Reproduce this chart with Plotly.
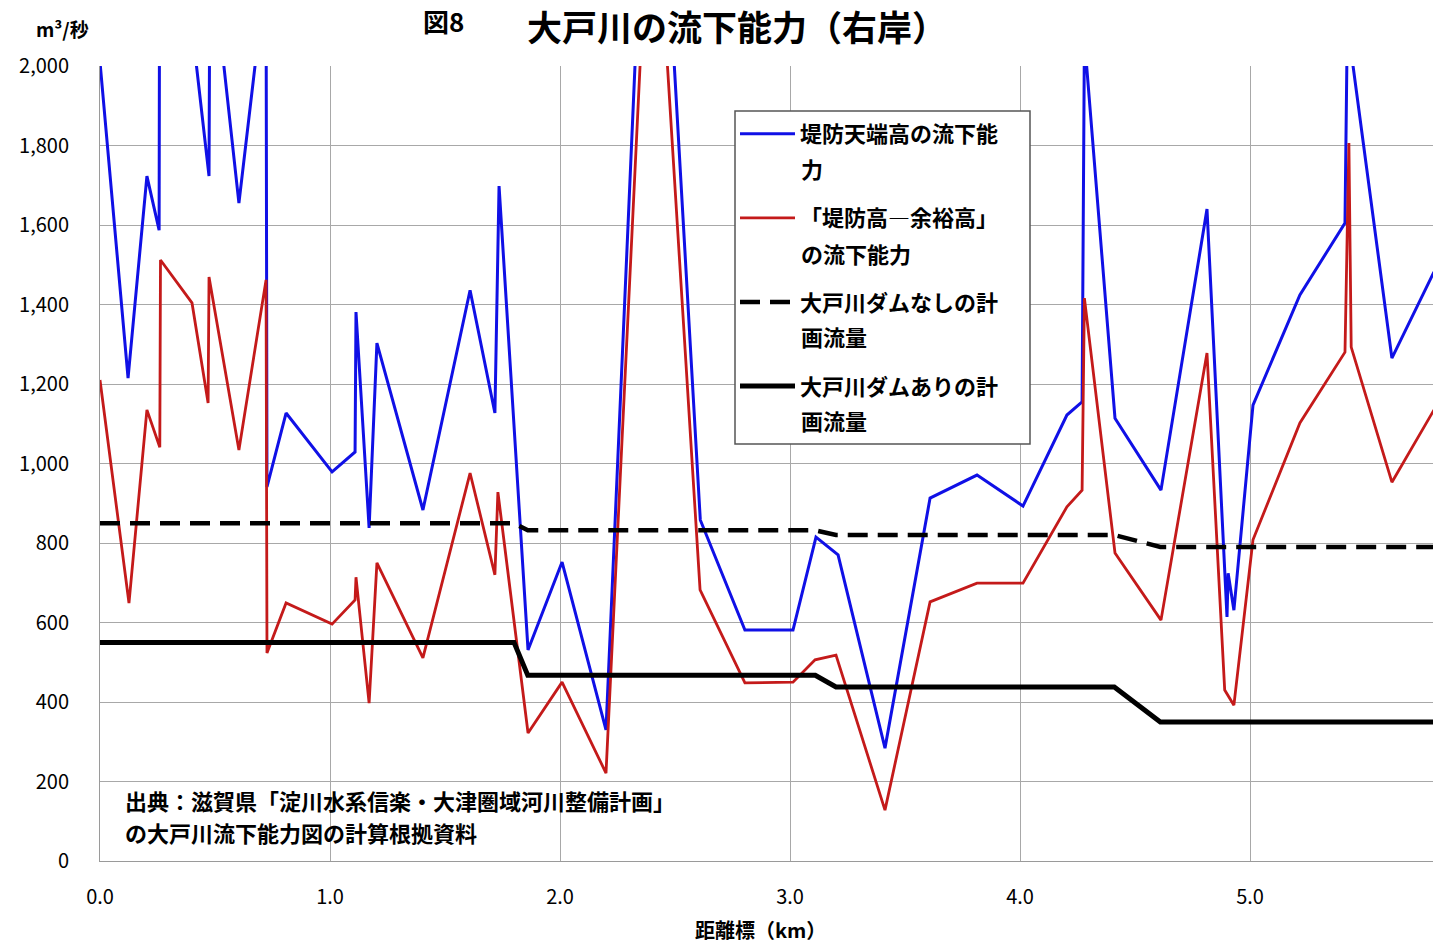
import plotly.graph_objects as go

# 堤防天端高の流下能力 (blue)
blue_x = [0, 0.122, 0.204, 0.257, 0.26, 0.39, 0.474, 0.478, 0.604, 0.722, 0.726, 0.809,
          1.009, 1.109, 1.113, 1.17, 1.204, 1.404, 1.609, 1.717, 1.735, 1.861, 2.009, 2.2,
          2.4, 2.61, 2.804, 3.013, 3.113, 3.209, 3.413, 3.609, 3.813, 4.013, 4.204, 4.27,
          4.28, 4.413, 4.613, 4.813, 4.9, 4.905, 4.93, 5.013, 5.217, 5.413, 5.425, 5.44,
          5.617, 5.8]
blue_y = [2010, 1215, 1723, 1587, 2600, 2150, 1723, 2320, 1655, 2237, 941, 1127,
          979, 1029, 1381, 838, 1303, 883, 1436, 1127, 1698, 531, 752, 330,
          2981, 858, 581, 581, 815, 770, 284, 913, 971, 893, 1122, 1155,
          2070, 1114, 933, 1640, 614, 724, 631, 1147, 1424, 1605, 2200, 2035,
          1265, 1482]

# 「堤防高―余裕高」の流下能力 (red)
red_x = [0, 0.126, 0.204, 0.26, 0.263, 0.4, 0.47, 0.474, 0.604, 0.722, 0.726, 0.809,
         1.009, 1.109, 1.113, 1.17, 1.204, 1.404, 1.609, 1.717, 1.73, 1.861, 2.009, 2.2,
         2.4, 2.609, 2.804, 3.013, 3.109, 3.2, 3.413, 3.609, 3.813, 4.013, 4.204, 4.27,
         4.28, 4.413, 4.613, 4.813, 4.89, 4.93, 5.013, 5.217, 5.413, 5.43, 5.44, 5.617, 5.8]
red_y = [1210, 649, 1135, 1041, 1512, 1404, 1152, 1469, 1034, 1462, 523, 649,
         596, 657, 714, 397, 750, 511, 976, 720, 928, 322, 450, 221,
         2625, 682, 448, 450, 506, 518, 128, 652, 699, 699, 891, 933,
         1416, 775, 606, 1278, 430, 392, 808, 1102, 1280, 1806, 1293, 953, 1135]

# 計画流量
plan_x = [0, 1.8, 1.86, 3.11, 3.2, 4.41, 4.61, 5.8]
plan_nodam_y = [850, 850, 832, 832, 820, 820, 790, 790]
plan_dam_y = [550, 550, 467, 467, 438, 438, 350, 350]

x_ticks = [0, 1, 2, 3, 4, 5]
y_ticks = [0, 200, 400, 600, 800, 1000, 1200, 1400, 1600, 1800, 2000]

# legend labels (first line / continuation line)
legend_first = ["堤防天端高の流下能", "「堤防高―余裕高」", "大戸川ダムなしの計", "大戸川ダムありの計"]
legend_second = ["力", "の流下能力", "画流量", "画流量"]
source_lines = ["出典：滋賀県「淀川水系信楽・大津圏域河川整備計画」", "の大戸川流下能力図の計算根拠資料"]

FONT = "Noto Sans CJK JP"

fig = go.Figure()
fig.add_trace(go.Scatter(x=blue_x, y=blue_y, mode="lines",
                         name=f"<b>{legend_first[0]}</b>", legendgroup="a",
                         line=dict(color="#1010e6", width=3)))
fig.add_trace(go.Scatter(x=red_x, y=red_y, mode="lines",
                         name=f"<b>{legend_first[1]}</b>", legendgroup="b",
                         line=dict(color="#c41a1a", width=2.8)))
fig.add_trace(go.Scatter(x=plan_x, y=plan_nodam_y, mode="lines",
                         name=f"<b>{legend_first[2]}</b>", legendgroup="c",
                         line=dict(color="black", width=4.5, dash="20px,10px")))
fig.add_trace(go.Scatter(x=plan_x, y=plan_dam_y, mode="lines",
                         name=f"<b>{legend_first[3]}</b>", legendgroup="d",
                         line=dict(color="black", width=5)))

def px2x(px):
    return (px - 100) / 1333

def py2y(py):
    return (861 - py) / 795

fig.update_layout(
    width=1433, height=946,
    margin=dict(l=100, r=0, t=66, b=85),
    paper_bgcolor="white", plot_bgcolor="white",
    font=dict(family=FONT, color="black", size=20),
    showlegend=True,
    legend=dict(x=px2x(735), y=py2y(113), xanchor="left", yanchor="top",
                bgcolor="rgba(0,0,0,0)", borderwidth=0,
                font=dict(size=22, family=FONT), valign="top",
                tracegroupgap=52.5, itemwidth=55),
    xaxis=dict(range=[0, 1333 / 230], tickvals=x_ticks, tickformat=".1f",
               showgrid=True, gridcolor="#a8a8a8", gridwidth=1,
               showline=True, linecolor="#9a9a9a", linewidth=1,
               zeroline=False, ticks="", ticklabelstandoff=18,
               tickfont=dict(size=20, family=FONT)),
    yaxis=dict(range=[0, 2000], tickvals=y_ticks, tickformat=",d",
               showgrid=True, gridcolor="#a8a8a8", gridwidth=1,
               showline=True, linecolor="#9a9a9a", linewidth=1,
               zeroline=False, ticks="", ticklabelstandoff=26,
               tickfont=dict(size=20, family=FONT)),
)

# white box behind source note
fig.add_shape(type="rect", xref="paper", yref="paper",
              x0=px2x(104), x1=px2x(705), y0=py2y(858), y1=py2y(765),
              fillcolor="white", line=dict(width=0), layer="between")
# legend frame
fig.add_shape(type="rect", xref="paper", yref="paper",
              x0=px2x(735), x1=px2x(1030), y0=py2y(444), y1=py2y(111),
              fillcolor="white", line=dict(width=1.5, color="#555"), layer="above")

for ln, yy in zip(legend_second, [168, 253, 336, 420]):
    fig.add_annotation(text=f"<b>{ln}</b>", xref="paper", yref="paper",
                       x=px2x(799), y=py2y(yy), xanchor="left", yanchor="middle",
                       showarrow=False, font=dict(size=22, family=FONT))

for ln, yy in zip(source_lines, [800, 832]):
    fig.add_annotation(text=f"<b>{ln}</b>", xref="paper", yref="paper",
                       x=px2x(123), y=py2y(yy), xanchor="left", yanchor="middle",
                       align="left", showarrow=False, font=dict(size=22, family=FONT))

fig.add_annotation(text="<b>図8</b>", xref="paper", yref="paper",
                   x=px2x(443), y=py2y(20), xanchor="center", yanchor="middle",
                   showarrow=False, font=dict(size=26, family=FONT))
fig.add_annotation(text="<b>大戸川の流下能力（右岸）</b>", xref="paper", yref="paper",
                   x=px2x(737), y=py2y(25), xanchor="center", yanchor="middle",
                   showarrow=False, font=dict(size=35, family=FONT))
fig.add_annotation(text="<b>m³/秒</b>", xref="paper", yref="paper",
                   x=px2x(62), y=py2y(28), xanchor="center", yanchor="middle",
                   showarrow=False, font=dict(size=19, family=FONT))
fig.add_annotation(text="<b>距離標（km）</b>", xref="paper", yref="paper",
                   x=px2x(760), y=py2y(929), xanchor="center", yanchor="middle",
                   showarrow=False, font=dict(size=20, family=FONT))

fig.write_html("out.html", config={"displayModeBar": False},
               post_script="document.body.style.margin='0';")
